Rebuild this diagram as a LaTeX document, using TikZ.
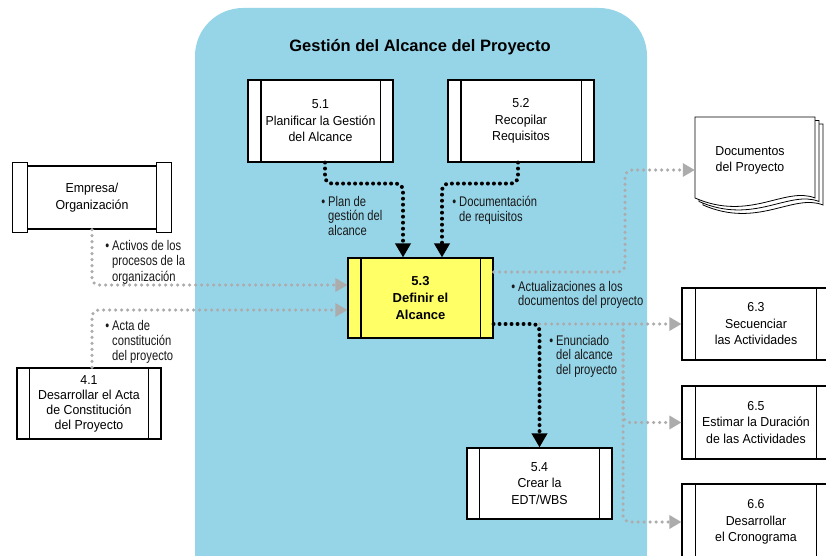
\documentclass[tikz,border=0pt]{standalone}
\usepackage{fontspec}
\setmainfont{Liberation Sans}
\newfontfamily\boxfont[FakeStretch=0.95]{Liberation Sans}
\newfontfamily\lblfont[FakeStretch=0.8]{Liberation Sans}
\usetikzlibrary{arrows.meta}
\definecolor{scopeblue}{RGB}{150,213,232}
\definecolor{defyellow}{RGB}{255,255,102}
\definecolor{dotgray}{RGB}{172,172,172}
\tikzset{
  proc/.style={draw, line width=1.1pt, fill=white, align=center,
    font=\boxfont\fontsize{13}{16.5}\selectfont, inner sep=0pt},
  lbl/.style={align=left, anchor=north west, inner sep=0pt, text=black!90,
    font=\lblfont\fontsize{14}{14.5}\selectfont},
  bdot/.style={line width=4pt, dash pattern=on 0pt off 6pt, line cap=round,
    rounded corners=7pt, -{Triangle[width=15pt,length=14pt]}},
  garrow/.style={draw=dotgray, line width=3.5pt, dash pattern=on 0pt off 6pt,
    line cap=round, rounded corners=7pt,
    -{Triangle[width=13pt,length=12pt,fill=dotgray]}},
  bar/.style={line width=1.1pt},
  docpage/.style={draw, line width=0.8pt, fill=white},
}
\newcommand{\sidebars}[2]{%
  \draw[bar] ([xshift=#2]#1.north west) -- ([xshift=#2]#1.south west);
  \draw[bar] ([xshift=-#2]#1.north east) -- ([xshift=-#2]#1.south east);}
\begin{document}
\begin{tikzpicture}[x=1pt,y=-1pt]
\clip (0,0) rectangle (826,556);
\fill[white] (0,0) rectangle (826,556);
% scope region
\fill[scopeblue, rounded corners=48pt] (195,8) rectangle (647,600);
\node[font=\bfseries\fontsize{16.5}{18}\selectfont] (title) at (420,47) {Gestión del Alcance del Proyecto};

% process boxes
\node[proc, minimum width=145pt, minimum height=82pt] (p51) at (320.5,121) {5.1\\Planificar la Gestión\\del Alcance};
\sidebars{p51}{13.5pt}
\node[proc, minimum width=146pt, minimum height=82pt] (p52) at (521,121) {5.2\\Recopilar\\Requisitos};
\sidebars{p52}{13.5pt}
\node[proc, fill=defyellow, minimum width=145pt, minimum height=80pt,
  font=\bfseries\fontsize{13}{17}\selectfont] (p53) at (420.5,298) {5.3\\Definir el\\Alcance};
\sidebars{p53}{13.5pt}
\node[proc, minimum width=158pt, minimum height=63pt] (emp) at (92,197.5) {Empresa/\\Organización};
\draw[bar, fill=white] ([yshift=3pt]emp.north west) rectangle ([xshift=15pt,yshift=-3pt]emp.south west);
\draw[bar, fill=white] ([yshift=3pt]emp.north east) rectangle ([xshift=-15pt,yshift=-3pt]emp.south east);
\node[proc, minimum width=144pt, minimum height=71pt, font=\boxfont\fontsize{13}{15}\selectfont] (p41) at (89,403.5) {4.1\\Desarrollar el Acta\\de Constitución\\del Proyecto};
\sidebars{p41}{13pt}
\node[proc, minimum width=145pt, minimum height=71pt] (p54) at (539.5,483.5) {5.4\\Crear la\\EDT/WBS};
\sidebars{p54}{13pt}
\node[proc, minimum width=148pt, minimum height=72pt] (p63) at (756,324) {6.3\\Secuenciar\\las Actividades};
\sidebars{p63}{14pt}
\node[proc, minimum width=148pt, minimum height=73pt] (p65) at (756,422.5) {6.5\\Estimar la Duración\\de las Actividades};
\sidebars{p65}{14pt}
\node[proc, minimum width=148pt, minimum height=76pt] (p66) at (756,522) {6.6\\Desarrollar\\el Cronograma};
\sidebars{p66}{14pt}

% project documents
\draw[docpage] (703,124) -- (823,124) -- (823,205) .. controls (793,193) and (758,229) .. (703,205) -- cycle;
\draw[docpage] (699,120.5) -- (819,120.5) -- (819,201.5) .. controls (789,189.5) and (754,225.5) .. (699,201.5) -- cycle;
\draw[docpage] (695,117) -- (815,117) -- (815,198) .. controls (785,186) and (750,222) .. (695,198) -- cycle;
\node[align=center, font=\boxfont\fontsize{13}{16}\selectfont, minimum width=110pt, inner sep=0pt] (docs) at (750,160) {Documentos\\del Proyecto};

% connectors
\coordinate (up) at (625,170);
\coordinate (br) at (623,324);
\draw[garrow] (emp.south) |- ([yshift=13pt]p53.west);
\draw[garrow] ([xshift=3pt]p41.north) |- ([yshift=-12pt]p53.west);
\draw[garrow] ([yshift=26pt]p53.east) -| (up) -- (docs.west |- up);
\draw[garrow] (p54.north |- p63.west) -- (p63.west);
\draw[garrow] (br) |- (p65.west);
\draw[garrow] (br) |- (p66.west);
\draw[bdot] ([xshift=4.5pt]p51.south) -- ++(0,21) -| ([xshift=-17.5pt]p53.north);
\draw[bdot] ([xshift=-3pt]p52.south) -- ++(0,21) -| ([xshift=21.5pt]p53.north);
\draw[bdot] ([yshift=-26pt]p53.east) -| (p54.north);

% labels
\newcommand{\bul}{\llap{\textbullet\hspace{3pt}}}
\node[lbl, font=\lblfont\fontsize{14}{15.5}\selectfont] (l1) at (112,240) {\bul Activos de los\\procesos de la\\organización};
\node[lbl, font=\lblfont\fontsize{14}{15}\selectfont] (l2) at (112,320) {\bul Acta de\\constitución\\del proyecto};
\node[lbl] (l3) at (328,196) {\bul Plan de\\gestión del\\alcance};
\node[lbl] (l4) at (459,196) {\bul Documentación\\de requisitos};
\node[lbl] (l5) at (518,281) {\bul Actualizaciones a los\\documentos del proyecto};
\node[lbl] (l6) at (556,335) {\bul Enunciado\\del alcance\\del proyecto};
\end{tikzpicture}
\end{document}
